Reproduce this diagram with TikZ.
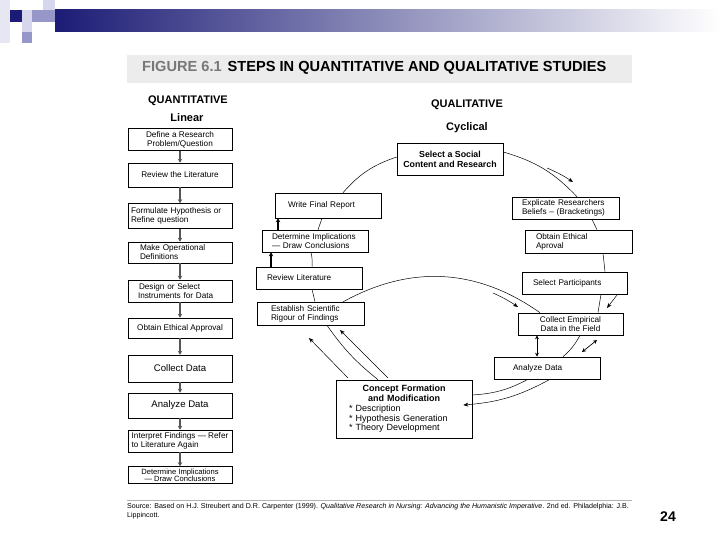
\documentclass[tikz,border=0pt]{standalone}
\usepackage{fontspec}
\setmainfont{Liberation Sans}
\usepackage{xcolor}
\usetikzlibrary{arrows.meta, positioning}
\definecolor{slidenavy}{RGB}{28, 28, 118}
\definecolor{slidemid}{RGB}{160, 160, 190}
\definecolor{palelav}{RGB}{214, 214, 236}
\definecolor{midlav}{RGB}{150, 150, 200}
\definecolor{bandgray}{RGB}{236, 236, 236}
\definecolor{titlegray}{RGB}{120, 120, 120}
\definecolor{arrowgray}{RGB}{85, 85, 85}
\newcommand{\boxfont}{\fontsize{8.2}{9}\selectfont}
\tikzset{
  stepbox/.style={draw=black, line width=0.6pt, fill=white, inner sep=2pt,
                  font=\boxfont, align=center},
  qcol/.style={stepbox, minimum width=104pt},
  rbox/.style={stepbox, align=left},
  flowarrow/.style={draw=arrowgray, line width=1.4pt, -{Stealth[length=4pt, width=4.5pt]}},
  cycleline/.style={draw=black, line width=0.5pt},
  cyclearrow/.style={cycleline, -{Stealth[length=5pt, width=4pt]}},
  twoway/.style={cycleline, line width=0.7pt, {Stealth[length=4pt, width=4pt]}-{Stealth[length=4pt, width=4pt]}},
  uparrow/.style={draw=black, line width=1.2pt, -{Stealth[length=4pt, width=4.5pt]}},
  heading/.style={font=\bfseries\fontsize{11}{12}\selectfont}
}

\begin{document}
\begin{tikzpicture}[x=1pt, y=-1pt]
  \useasboundingbox (0,0) rectangle (720,540);

  % slide decoration
  \fill[palelav!60] (0,0) rectangle (10,43);
  \fill[slidenavy] (10,10) rectangle (22,22);
  \fill[palelav] (22,10) rectangle (32,22);
  \fill[palelav] (43,0) rectangle (55,10);
  \fill[midlav] (32,10) rectangle (55,22);
  \fill[palelav] (22,22) rectangle (32,32);
  \fill[midlav] (22,32) rectangle (32,43);
  \shade[left color=slidenavy, middle color=slidemid, right color=white] (55,10) rectangle (720,32);

  % title band
  \fill[bandgray] (127,55) rectangle (632,83);
  \node[anchor=west, font=\bfseries\fontsize{14.6}{16}\selectfont, inner sep=0pt] (title) at (142,68)
    {\textcolor{titlegray}{FIGURE 6.1}\hspace{6pt}STEPS IN QUANTITATIVE AND QUALITATIVE STUDIES};

  % quantitative column
  \node[heading] (quant) at (188,101) {QUANTITATIVE};
  \node[heading] (linear) at (187,118) {Linear};

  \node[qcol, minimum height=22pt] (q1) at (180,139.5) {Define a Research\\Problem/Question};
  \node[qcol, minimum height=24pt] (q2) at (180,175) {Review the Literature};
  \node[qcol, minimum height=25pt, align=left, inner xsep=3pt, text width=98pt] (q3) at (180,216) {Formulate Hypothesis or\\Refine question};
  \node[qcol, minimum height=21pt, align=left, inner xsep=12pt, text width=80pt] (q4) at (180,252.5) {Make Operational\\Definitions};
  \node[qcol, minimum height=22pt, align=left, inner xsep=10pt, text width=84pt] (q5) at (180,291) {\hspace{1pt}Design or Select\\Instruments for Data};
  \node[qcol, minimum height=20pt] (q6) at (180,328) {Obtain Ethical Approval};
  \node[qcol, minimum height=27pt, font=\fontsize{9.6}{11}\selectfont] (q7) at (180,368.5) {Collect Data};
  \node[qcol, minimum height=25pt, font=\fontsize{9.6}{11}\selectfont] (q8) at (180,405.5) {Analyze Data};
  \node[qcol, minimum height=22pt, align=left] (q9) at (180,441) {Interpret Findings --- Refer\\to Literature Again};
  \node[qcol, minimum height=17pt, inner sep=1pt, font=\fontsize{7.6}{7.4}\selectfont] (q10) at (180,475) {Determine Implications\\--- Draw Conclusions};

  \foreach \a/\b in {q1/q2, q2/q3, q3/q4, q4/q5, q5/q6, q6/q7, q7/q8, q8/q9, q9/q10}
    \draw[flowarrow] (\a.south) -- (\b.north);

  % qualitative cycle
  \node[heading] (qual) at (467,105) {QUALITATIVE};
  \node[heading] (cyclical) at (467,128) {Cyclical};

  \node[stepbox, minimum width=106pt, minimum height=32pt, font=\bfseries\fontsize{8.8}{10}\selectfont] (social) at (450,159) {Select a Social\\Content and Research};
  \node[rbox, minimum width=107pt, minimum height=22pt, inner xsep=10pt, text width=87pt] (explicate) at (565.5,208) {Explicate Researchers\\Beliefs -- (Bracketings)};
  \node[rbox, minimum width=107pt, minimum height=23pt, inner xsep=11pt, text width=85pt] (ethical) at (578.5,241.5) {Obtain Ethical\\Aproval};
  \node[rbox, minimum width=105pt, minimum height=22pt, inner xsep=11pt, text width=83pt] (participants) at (574.5,283) {Select Participants};
  \node[stepbox, minimum width=105pt, minimum height=22pt] (empirical) at (570.5,324) {Collect Empirical\\Data in the Field};
  \node[rbox, minimum width=106pt, minimum height=22pt, inner xsep=19pt, text width=68pt] (analyze) at (547,368) {Analyze Data};
  \node[rbox, minimum width=136pt, minimum height=58pt, inner xsep=13pt, text width=110pt, font=\fontsize{9}{9.7}\selectfont] (concept) at (404,409)
    {{\centering\textbf{Concept Formation}\\\textbf{and Modification}\par}* Description\\{}* Hypothesis Generation\\{}* Theory Development};
  \node[rbox, minimum width=107pt, minimum height=23pt, inner xsep=14pt, text width=79pt] (establish) at (310.5,313.5) {Establish Scientific\\Rigour of Findings};
  \node[rbox, minimum width=106pt, minimum height=22pt, inner xsep=11pt, text width=84pt] (review) at (309,278) {Review Literature};
  \node[rbox, minimum width=106pt, minimum height=22pt, inner xsep=10pt, text width=86pt] (determine) at (315,241) {Determine Implications\\--- Draw Conclusions};
  \node[rbox, minimum width=106pt, minimum height=25pt, inner xsep=13pt, text width=80pt] (report) at (328,205.5) {Write Final Report};

  % free arrow ends
  \coordinate (bracketA) at (547,168);
  \coordinate (bracketB) at (573,182);
  \coordinate (partA) at (617,295);
  \coordinate (partB) at (607,308);
  \coordinate (fieldA) at (493,293);
  \coordinate (fieldB) at (518,307);
  \coordinate (swapA) at (582,352);
  \coordinate (swapB) at (597,340);
  \coordinate (backA) at (348,378);
  \coordinate (backB) at (309,338);
  \coordinate (backC) at (388,378);
  \coordinate (backD) at (340,330);

  % cycle connectors
  \draw[cycleline] ([xshift=15pt]report.north) to[bend left=15] ([yshift=2pt]social.west);
  \draw[cycleline] ([yshift=7pt]social.east) to[bend left=15] ([xshift=11.5pt]explicate.north);
  \draw[cyclearrow] (bracketA) to[bend left=5] (bracketB);
  \draw[cycleline] ([xshift=26.5pt]explicate.south) -- ([xshift=18.5pt]ethical.north);
  \draw[cycleline] ([xshift=24.5pt]ethical.south) -- ([xshift=30.5pt]participants.north);
  \draw[cycleline] ([xshift=26.5pt]participants.south) -- ([xshift=27.5pt]empirical.north);
  \draw[cyclearrow] (partA) -- (partB);
  \draw[cycleline] ([xshift=-21pt]establish.north east) to[bend left=32] ([xshift=-30.5pt]empirical.north);
  \draw[cyclearrow] (fieldA) to[bend left=5] (fieldB);
  \draw[twoway] ([xshift=-33.5pt]empirical.south) -- ([xshift=-10pt]analyze.north);
  \draw[cycleline] ([xshift=9.5pt]empirical.south) to[bend left=10] ([xshift=16pt]analyze.north);
  \draw[twoway] (swapA) -- (swapB);
  \draw[cycleline] ([xshift=-19pt]analyze.south) to[bend left=12] ([yshift=14pt]concept.east);
  \draw[cyclearrow] ([xshift=3pt]analyze.south) to[bend left=12] ([xshift=-9pt, yshift=4pt]concept.east);
  \draw[cycleline] ([xshift=-26pt]concept.north) to[bend left=8] ([xshift=16.5pt]establish.south);
  \draw[cyclearrow] (backA) -- (backB);
  \draw[cyclearrow] (backC) -- (backD);
  \draw[cycleline] ([xshift=4.5pt]establish.north) -- ([xshift=3pt]review.south);
  \draw[cycleline] ([xshift=3pt]review.north) to[bend right=8] ([xshift=-4pt]determine.south);
  \draw[uparrow] ([xshift=-38pt]review.north) -- ([xshift=-44pt]determine.south);
  \draw[uparrow] ([xshift=-37pt]determine.north) -- ([xshift=-50pt]report.south);
  \draw[cycleline] ([xshift=3pt]determine.north) -- ([xshift=-6pt]report.south);

  % source line
  \draw[draw=gray!60, line width=1pt] (127,500) -- (632,500);
  \node[anchor=north west, inner sep=0pt, align=left, font=\fontsize{7.1}{9}\selectfont] (source) at (127,503.5)
    {Source: Based on H.J. Streubert and D.R. Carpenter (1999). \textit{Qualitative Research in Nursing: Advancing the Humanistic Imperative}. 2nd ed. Philadelphia: J.B.\\Lippincott.};
  \node[font=\bfseries\fontsize{14}{16}\selectfont] (pagenum) at (668,517) {24};
\end{tikzpicture}
\end{document}
